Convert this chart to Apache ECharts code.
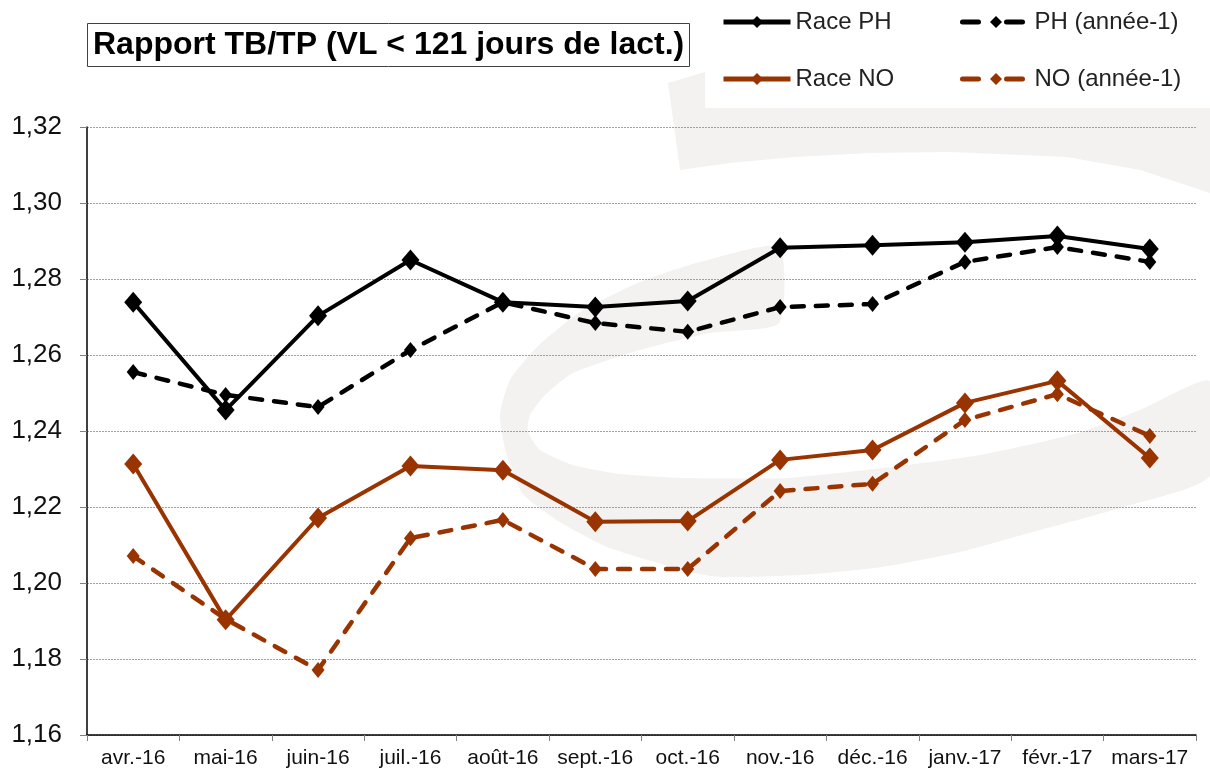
<!DOCTYPE html>
<html>
<head>
<meta charset="utf-8">
<script src="https://cdn.jsdelivr.net/npm/echarts@6/dist/echarts.min.js"></script>
<style>
html,body{margin:0;padding:0;background:#fff;}
#chart{width:1210px;height:771px;}
</style>
</head>
<body>
<div id="chart"></div>
<script>
var categories = ['avr.-16','mai-16','juin-16','juil.-16','août-16','sept.-16','oct.-16','nov.-16','déc.-16','janv.-17','févr.-17','mars-17'];
var racePH = [1.2739, 1.2455, 1.2703, 1.2850, 1.2739, 1.2726, 1.2742, 1.2882, 1.2889, 1.2897, 1.2913, 1.2879];
var phPrev = [1.2555, 1.2495, 1.2463, 1.2613, 1.2739, 1.2684, 1.2661, 1.2726, 1.2734, 1.2845, 1.2884, 1.2845];
var raceNO = [1.2313, 1.1903, 1.2171, 1.2308, 1.2297, 1.2161, 1.2163, 1.2324, 1.2350, 1.2474, 1.2532, 1.2329];
var noPrev = [1.2071, 1.1905, 1.1771, 1.2118, 1.2166, 1.2037, 1.2037, 1.2242, 1.2261, 1.2429, 1.2497, 1.2387];
var seriesNames = ['Race PH', 'PH (année-1)', 'Race NO', 'NO (année-1)'];
var yMin = 1.16, yMax = 1.32, yStep = 0.02;

var FONT = "'Liberation Sans', Arial, sans-serif";
var BROWN = '#993300';
var WM = '#f3f2f0';

var chart = echarts.init(document.getElementById('chart'), null, {renderer: 'canvas'});

function legendFor(name, left, top, color, dashed) {
  var l = {
    data: [name], left: left, top: top, padding: 0,
    itemWidth: 67, itemHeight: 15, itemGap: 0,
    textStyle: {fontFamily: FONT, fontSize: 24, color: '#222'},
    lineStyle: {width: 5, color: color}
  };
  if (dashed) { l.lineStyle.type = [16, 28]; l.lineStyle.cap = 'round'; }
  return l;
}

var option = {
  animation: false,
  backgroundColor: '#fff',
  textStyle: {fontFamily: FONT},
  title: {
    text: 'Rapport TB/TP (VL < 121 jours de lact.)',
    left: 87, top: 23,
    padding: [3, 6],
    borderWidth: 1, borderColor: '#404040',
    backgroundColor: '#fff',
    textStyle: {fontFamily: FONT, fontSize: 32, fontWeight: 'bold', color: '#000', lineHeight: 38}
  },
  legend: [
    legendFor(seriesNames[0], 721, 10, '#000', false),
    legendFor(seriesNames[1], 960, 10, '#000', true),
    legendFor(seriesNames[2], 721, 67, BROWN, false),
    legendFor(seriesNames[3], 960, 67, BROWN, true)
  ],
  graphic: [
    {type: 'polygon', z: -20, silent: true,
     shape: {points: [[668,83],[705,72],[1210,40],[1210,193],[1140,170],[1067,157],[950,152],[870,153],[795,157],[730,163],[680,170]]},
     style: {fill: WM}},
    {type: 'polygon', z: -20, silent: true,
     shape: {smooth: 0.2, points: [
       [779,247],[700,262],[640,282],[580,312],[538,346],[510,380],[500,415],[506,452],[523,494],[560,522],[610,548],[710,576],
       [800,575],[882,567],[960,552],[1029,533],[1120,508],[1210,476],[1210,381],[1140,410],[1078,433],[980,455],[882,468],
       [786,478],[686,478],[620,474],[573,465],[540,450],[528,432],[530,415],[545,395],[573,373],[640,350],[710,333],[779,323]
     ]},
     style: {fill: WM}},
    {type: 'rect', z: -10, silent: true, shape: {x: 705, y: 0, width: 505, height: 108}, style: {fill: '#fff'}}
  ],
  grid: {left: 87, right: 14, top: 127, bottom: 36, containLabel: false},
  xAxis: {
    type: 'category',
    data: categories,
    boundaryGap: true,
    axisLine: {show: true, lineStyle: {color: '#000', width: 1.5}},
    axisTick: {show: true, alignWithLabel: false, length: 6, interval: 0, lineStyle: {color: '#808080', width: 1}},
    axisLabel: {interval: 0, margin: 13, fontSize: 21, color: '#111', fontFamily: FONT},
    splitLine: {show: false}
  },
  yAxis: {
    type: 'value',
    min: yMin, max: yMax, interval: yStep,
    axisLine: {show: true, lineStyle: {color: '#000', width: 1.5}},
    axisTick: {show: true, length: 7, lineStyle: {color: '#808080', width: 1}},
    axisLabel: {margin: 25, fontSize: 26, color: '#111', fontFamily: FONT,
      formatter: function (v) { return v.toFixed(2).replace('.', ','); }},
    splitLine: {show: true, lineStyle: {color: '#a0a0a0', width: 1, type: [2, 1]}}
  },
  series: [
    {name: seriesNames[0], type: 'line', data: racePH, symbol: 'diamond', symbolSize: [18, 21],
     lineStyle: {color: '#000', width: 4}, itemStyle: {color: '#000'}, z: 5},
    {name: seriesNames[1], type: 'line', data: phPrev, symbol: 'diamond', symbolSize: [13, 16],
     lineStyle: {color: '#000', width: 4.5, type: [12, 12], cap: 'round'}, itemStyle: {color: '#000'}, z: 4},
    {name: seriesNames[2], type: 'line', data: raceNO, symbol: 'diamond', symbolSize: [18, 21],
     lineStyle: {color: BROWN, width: 4}, itemStyle: {color: BROWN}, z: 3},
    {name: seriesNames[3], type: 'line', data: noPrev, symbol: 'diamond', symbolSize: [13, 16],
     lineStyle: {color: BROWN, width: 4.5, type: [12, 12], cap: 'round'}, itemStyle: {color: BROWN}, z: 2}
  ]
};
chart.setOption(option);
</script>
</body>
</html>
